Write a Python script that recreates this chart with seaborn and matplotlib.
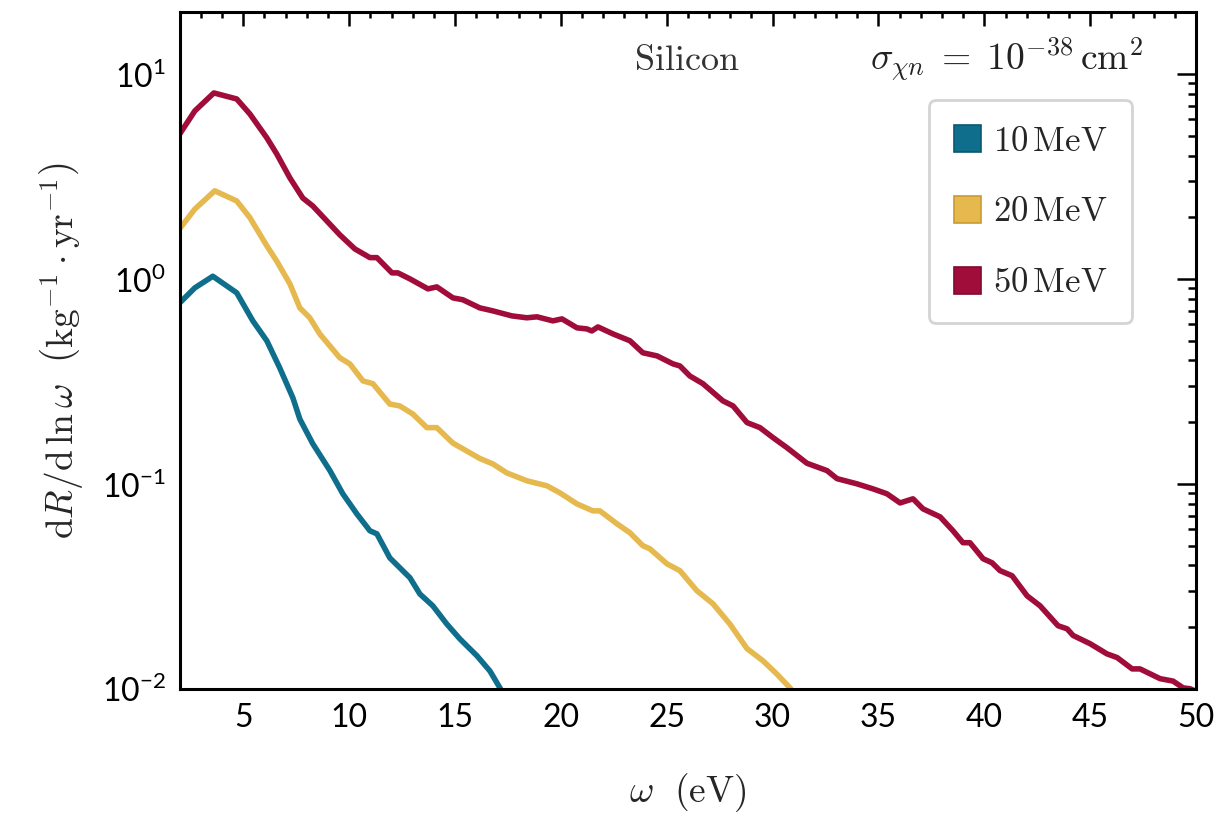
import numpy as np
import pandas as pd
import matplotlib
matplotlib.use("Agg")
import matplotlib.pyplot as plt
from matplotlib.patches import Patch
from matplotlib.ticker import MultipleLocator, LogLocator, NullFormatter
import seaborn as sns

# spectra (omega in eV, rate in kg^-1 yr^-1)
omega_10 = [2.00, 2.71, 3.56, 4.69, 5.45, 6.11, 6.72, 7.34, 7.67, 8.28, 9.09, 9.70,
            10.36, 10.98, 11.31, 11.92, 12.87, 13.34, 13.95, 14.61, 15.23, 16.03,
            16.65, 17.12, 17.26]
rate_10 = [0.764, 0.904, 1.03, 0.855, 0.624, 0.499, 0.368, 0.263, 0.207, 0.157, 0.116,
           0.0894, 0.0714, 0.0590, 0.0570, 0.0435, 0.0348, 0.0290, 0.0254, 0.0207,
           0.0175, 0.0145, 0.0122, 0.0101, 0.0095]

omega_20 = [2.00, 2.71, 3.65, 4.69, 5.31, 6.11, 6.58, 7.20, 7.67, 8.14, 8.61, 9.56,
            10.03, 10.65, 11.12, 11.92, 12.39, 13.01, 13.67, 14.14, 14.90, 16.17,
            16.79, 17.45, 18.39, 19.34, 19.95, 20.76, 21.51, 21.84, 22.65, 23.26,
            23.87, 24.20, 25.01, 25.62, 26.42, 27.18, 27.98, 28.79, 29.54, 30.20,
            30.82, 31.00]
rate_20 = [1.76, 2.19, 2.69, 2.40, 1.99, 1.45, 1.22, 0.946, 0.722, 0.646, 0.539, 0.412,
           0.385, 0.318, 0.308, 0.245, 0.240, 0.219, 0.188, 0.188, 0.158, 0.133,
           0.125, 0.113, 0.1035, 0.0978, 0.0904, 0.0798, 0.0738, 0.0738, 0.0638,
           0.0577, 0.0499, 0.0482, 0.0407, 0.0377, 0.0301, 0.0260, 0.0207, 0.0157,
           0.0137, 0.0118, 0.0101, 0.0095]

omega_50 = [2.00, 2.71, 3.61, 4.69, 5.31, 6.11, 6.58, 7.20, 7.81, 8.28, 8.94, 9.56,
            10.27, 10.98, 11.31, 12.02, 12.30, 12.87, 13.72, 14.14, 14.90, 15.37,
            16.17, 16.79, 17.68, 18.39, 18.87, 19.62, 20.05, 20.76, 21.23, 21.46,
            21.75, 22.46, 23.26, 23.87, 24.54, 25.29, 25.62, 26.09, 26.71, 27.65,
            28.13, 28.79, 29.40, 30.02, 30.68, 31.62, 32.57, 33.04, 33.98, 34.74,
            35.40, 36.02, 36.63, 37.10, 37.91, 38.52, 38.99, 39.32, 39.94, 40.36,
            40.74, 41.31, 42.02, 42.63, 43.48, 43.91, 44.19, 44.99, 45.79, 46.27,
            46.98, 47.35, 48.30, 48.91, 49.39, 49.72, 50.00]
rate_50 = [5.10, 6.60, 8.08, 7.55, 6.38, 4.88, 4.07, 3.11, 2.48, 2.27, 1.92, 1.64,
           1.40, 1.27, 1.27, 1.07, 1.07, 1.00, 0.894, 0.914, 0.808, 0.791, 0.722,
           0.698, 0.660, 0.646, 0.653, 0.624, 0.638, 0.577, 0.570, 0.557, 0.583,
           0.539, 0.499, 0.436, 0.421, 0.385, 0.376, 0.336, 0.308, 0.254, 0.240,
           0.199, 0.188, 0.168, 0.150, 0.126, 0.116, 0.106, 0.100, 0.0945, 0.0894,
           0.0807, 0.0845, 0.0755, 0.0690, 0.0590, 0.0516, 0.0516, 0.0431, 0.0412,
           0.0377, 0.0356, 0.0284, 0.0254, 0.0203, 0.0196, 0.0182, 0.0166, 0.0148,
           0.0142, 0.0125, 0.0125, 0.0112, 0.0109, 0.0101, 0.0100, 0.0097]

masses = ["10 MeV", "20 MeV", "50 MeV"]
mass_labels = [r"$10\,\mathrm{MeV}$", r"$20\,\mathrm{MeV}$", r"$50\,\mathrm{MeV}$"]
colors = ["#0e6e8b", "#e6b94f", "#a00d3b"]
edge_colors = ["#0a5870", "#c99a30", "#80092e"]

xticks = [5, 10, 15, 20, 25, 30, 35, 40, 45, 50]
yticks = [1e-2, 1e-1, 1e0, 1e1]
ytick_labels = [r"$\mathrm{10}^{\mathrm{-2}}$", r"$\mathrm{10}^{\mathrm{-1}}$",
                r"$\mathrm{10}^{\mathrm{0}}$", r"$\mathrm{10}^{\mathrm{1}}$"]

df = pd.concat([
    pd.DataFrame({"omega": omega_10, "rate": rate_10, "mass": masses[0]}),
    pd.DataFrame({"omega": omega_20, "rate": rate_20, "mass": masses[1]}),
    pd.DataFrame({"omega": omega_50, "rate": rate_50, "mass": masses[2]}),
], ignore_index=True)

sns.set_style("white")
plt.rcParams["mathtext.fontset"] = "cm"
plt.rcParams["font.family"] = ["Lato", "DejaVu Sans"]

fig, ax = plt.subplots(figsize=(12.23, 8.18), dpi=100)
fig.subplots_adjust(left=0.147, right=0.978, top=0.985, bottom=0.158)

sns.lineplot(data=df, x="omega", y="rate", hue="mass", palette=colors,
             linewidth=4.0, legend=False, ax=ax, sort=False, estimator=None)

ax.set_yscale("log")
ax.set_xlim(2, 50)
ax.set_ylim(1e-2, 20)

ax.set_xticks(xticks)
ax.set_xticklabels([str(t) for t in xticks])
ax.xaxis.set_minor_locator(MultipleLocator(1))
ax.set_yticks(yticks)
ax.set_yticklabels(ytick_labels)
ax.yaxis.set_minor_locator(LogLocator(base=10, subs=np.arange(2, 10)))
ax.yaxis.set_minor_formatter(NullFormatter())

plt.rcParams["mathtext.rm"] = "Lato"
for lbl in ax.get_yticklabels() + ax.get_xticklabels():
    lbl.set_fontsize(23)
    lbl.set_math_fontfamily("custom")

ax.tick_params(which="both", direction="in", top=True, right=True, width=1.8,
               colors="black", pad=10)
ax.tick_params(axis="y", which="major", length=14)
ax.tick_params(axis="y", which="minor", length=6)
ax.tick_params(axis="x", which="major", length=10)
ax.tick_params(axis="x", which="minor", length=4.5)
for sp in ax.spines.values():
    sp.set_linewidth(2.2)
    sp.set_color("black")

ax.set_xlabel(r"$\omega\ \ (\mathrm{eV})$", fontsize=27, labelpad=28)
ax.set_ylabel(r"$\mathrm{d}R/\mathrm{d}\,\ln\omega\ \ \left(\mathrm{kg}^{-1}\cdot\mathrm{yr}^{-1}\right)$",
              fontsize=27, labelpad=12)

ax.text(0.499, 0.93, r"$\mathrm{Silicon}$", transform=ax.transAxes, fontsize=26,
        ha="center", va="center", color="#333333")
ax.text(0.948, 0.93, r"$\sigma_{\chi n}\; =\; 10^{-38}\,\mathrm{cm}^2$", transform=ax.transAxes,
        fontsize=27, ha="right", va="center", color="#222222")

handles = [Patch(facecolor=c, edgecolor=e, linewidth=1.2, label=l)
           for c, e, l in zip(colors, edge_colors, mass_labels)]
leg = ax.legend(handles=handles, loc="upper right", bbox_to_anchor=(0.937, 0.870),
                borderaxespad=0, fontsize=25, frameon=True, fancybox=True,
                handlelength=0.8, handleheight=0.8, handletextpad=0.35,
                labelspacing=1.12, borderpad=0.7)
leg.get_frame().set_edgecolor("#d4d4d4")
leg.get_frame().set_linewidth(2)
leg.get_frame().set_alpha(1)

fig.savefig("out.png", dpi=100)
